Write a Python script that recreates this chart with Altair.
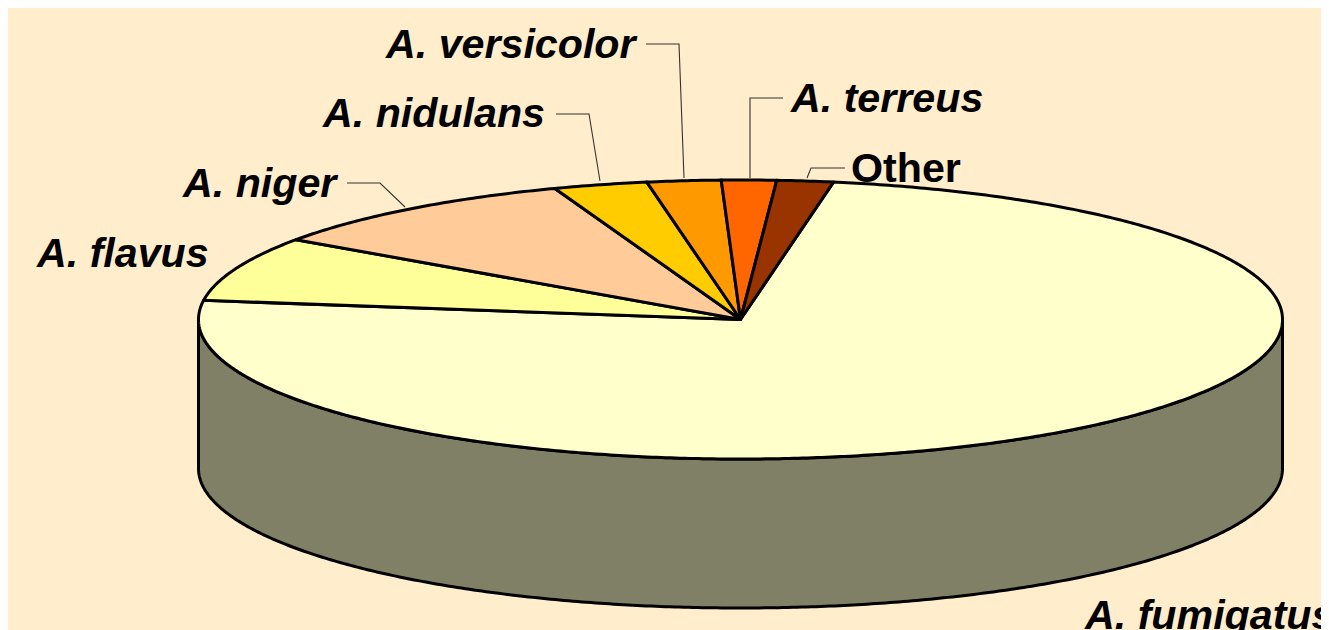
import math
import altair as alt

# Data (percent share of each species)
species = ["A. fumigatus", "A. flavus", "A. niger", "A. nidulans", "A. versicolor", "A. terreus", "Other"]
shares = [74.45, 7.5, 9.74, 2.8, 2.2, 1.63, 1.68]
slice_colors = ["#FFFFCC", "#FFFF99", "#FFCC99", "#FFCC00", "#FF9900", "#FF6600", "#993300"]
side_color = "#808066"
bg_color = "#FFEDCC"

# Label anchors in page pixels (left edge, baseline)
label_text = ["A. fumigatus", "A. flavus", "A. niger", "A. nidulans", "A. versicolor", "A. terreus", "Other"]
label_x = [1085, 37, 183, 323, 386, 791, 851]
label_y = [629, 267, 197, 127, 58, 112, 182]
label_italic = ["italic", "italic", "italic", "italic", "italic", "italic", "normal"]

# Leader lines in page pixels
leader_names = ["niger", "niger", "niger", "nidulans", "nidulans", "nidulans", "versicolor", "versicolor", "versicolor",
                "terreus", "terreus", "terreus", "other", "other", "other"]
leader_x = [347, 380, 405, 556, 589, 600, 646, 679, 684, 783, 750, 750, 845, 811, 807]
leader_y = [183, 183, 207, 114, 114, 181, 44, 44, 178, 98, 98, 178, 168, 168, 178]
leader_step = [0, 1, 2] * 5

M = 8  # page margin
W, H = 1313, 622
CX, CY, RX, RY, DEPTH = 740.5 - M, 319.5 - M, 542.0, 139.5, 149.0
START = 9.88


def pt(deg, dy=0.0):
    a = math.radians(deg)
    return [CX + RX * math.sin(a), CY - RY * math.cos(a) + dy]


def rim(a0, a1, dy=0.0):
    n = max(2, int(abs(a1 - a0) * 2))
    return [pt(a0 + (a1 - a0) * i / n, dy) for i in range(n + 1)]


features = []
side = rim(90, 270) + rim(270, 90, DEPTH)
side.append(side[0])
features.append({"type": "Feature", "properties": {"name": "side"},
                 "geometry": {"type": "Polygon", "coordinates": [side]}})
angle = START
total = sum(shares)
for name, s in zip(species, shares):
    end = angle + s / total * 360
    ring = [[CX, CY]] + rim(angle, end) + [[CX, CY]]
    features.append({"type": "Feature", "properties": {"name": name},
                     "geometry": {"type": "Polygon", "coordinates": [ring]}})
    angle = end

pie = alt.Chart(alt.InlineData(
    values={"type": "FeatureCollection", "features": features},
    format=alt.DataFormat(type="json", property="features"),
)).mark_geoshape(stroke="black", strokeWidth=3, strokeJoin="round").encode(
    color=alt.Color("properties.name:N", legend=None,
                    scale=alt.Scale(domain=["side"] + species, range=[side_color] + slice_colors)),
).project(type="identity", scale=1, translate=[0, 0])

xs = alt.Scale(domain=[M, M + W], range=[0, W], nice=False, zero=False)
ys = alt.Scale(domain=[M, M + H], range=[0, H], nice=False, zero=False)

leaders = alt.Chart(alt.Data(values=[
    {"name": n, "x": x, "y": y, "step": s}
    for n, x, y, s in zip(leader_names, leader_x, leader_y, leader_step)
])).mark_line(color="#333333", strokeWidth=1.1).encode(
    x=alt.X("x:Q", scale=xs, axis=None),
    y=alt.Y("y:Q", scale=ys, axis=None),
    detail="name:N",
    order="step:Q",
)

label_rows = [{"t": t, "x": x, "y": y, "s": s}
              for t, x, y, s in zip(label_text, label_x, label_y, label_italic)]


def text_layer(style):
    return alt.Chart(alt.Data(values=[r for r in label_rows if r["s"] == style])).mark_text(
        font="Liberation Sans", fontSize=41.2, fontWeight="bold", fontStyle=style,
        align="left", baseline="alphabetic", color="black",
    ).encode(
        x=alt.X("x:Q", scale=xs, axis=None),
        y=alt.Y("y:Q", scale=ys, axis=None),
        text="t:N",
    )


chart = alt.layer(pie, leaders, text_layer("italic"), text_layer("normal")).resolve_scale(
    x="shared", y="shared"
).properties(
    width=W, height=H, background=bg_color, padding=0,
    autosize=alt.AutoSizeParams(type="none"),
).configure_view(stroke=None)

chart.save("out.html", embed_options={"renderer": "svg", "actions": False})
